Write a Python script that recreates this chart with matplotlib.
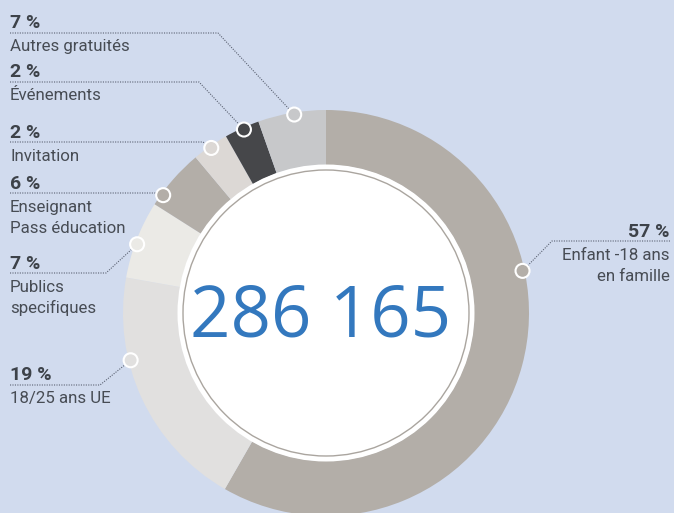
import matplotlib
matplotlib.use('Agg')
import matplotlib.pyplot as plt
from matplotlib.patches import Circle
import numpy as np

# data, clockwise from the top
categories = ['Enfant -18 ans\nen famille', '18/25 ans UE', 'Publics\nspecifiques',
              'Enseignant\nPass éducation', 'Invitation', 'Événements', 'Autres gratuités']
pct_labels = ['57 %', '19 %', '7 %', '6 %', '2 %', '2 %', '7 %']
shares = [58.3, 19.5, 6.2, 4.9, 2.9, 2.8, 5.4]   # slice sizes as drawn
total = '286 165'

colors = ['#b3aea8', '#e1e0df', '#ebeae6', '#b3aea8', '#dcd8d5', '#46474a', '#c7c8ca']
bg = '#d1dbee'
txt = '#474c54'
fam = ['Roboto', 'DejaVu Sans']

H = 513
cx, cy = 326, H - 313
R, r_in = 203, 148

# label layout (pixel coords): x, pct baseline, line y, elbow x, marker angle, align
layout = [
    (670, 237, 241, 552, 12.1, 'right'),
    (10, 380, 385, 100, 193.6, 'left'),
    (10, 269, 273, 106, 160.0, 'left'),
    (10, 189, 193, 161, 144.1, 'left'),
    (10, 138, 142, 203, 124.8, 'left'),
    (10, 77, 82, 199, 114.1, 'left'),
    (10, 28, 33, 218, 99.1, 'left'),
]

fig = plt.figure(figsize=(6.74, 5.13), dpi=100, facecolor=bg)
ax = fig.add_axes([0, 0, 1, 1])
ax.set_facecolor(bg)

ax.pie(shares, colors=colors, startangle=90, counterclock=False, radius=R,
       center=(cx, cy), frame=True,
       wedgeprops=dict(width=R - r_in, linewidth=0, antialiased=True))

ax.add_patch(Circle((cx, cy), r_in + 0.5, fc='white', ec='none', zorder=3))
ax.add_patch(Circle((cx, cy), 143, fc='none', ec='#aaa59f', lw=1, zorder=4))
ax.text(cx - 5, H - 318, total, ha='center', va='center', color='#3378be',
        fontsize=51, family='Open Sans', zorder=5)

for cat, pct, col, (x, yb, ly, ex, ang, al) in zip(categories, pct_labels, colors, layout):
    mx = cx + 201 * np.cos(np.radians(ang))
    my = cy + 201 * np.sin(np.radians(ang))
    ax.plot([x, ex, mx], [H - ly, H - ly, my], color='#5b6272', lw=0.8,
            linestyle=(0, (1, 1.2)), zorder=6)
    ax.add_patch(Circle((mx, my), 7, fc=col, ec='white', lw=1.5, zorder=7))
    ax.text(x, H - yb, pct, ha=al, va='baseline', fontsize=14, fontweight='bold',
            color='#3d4249', family=fam)
    for i, line in enumerate(cat.split('\n')):
        ax.text(x, H - (yb + 23 + 21 * i), line, ha=al, va='baseline', fontsize=12.2,
                color=txt, family=fam)

ax.set_xlim(0, 674)
ax.set_ylim(0, H)
ax.axis('off')

plt.savefig('out.png', dpi=100, facecolor=bg)
